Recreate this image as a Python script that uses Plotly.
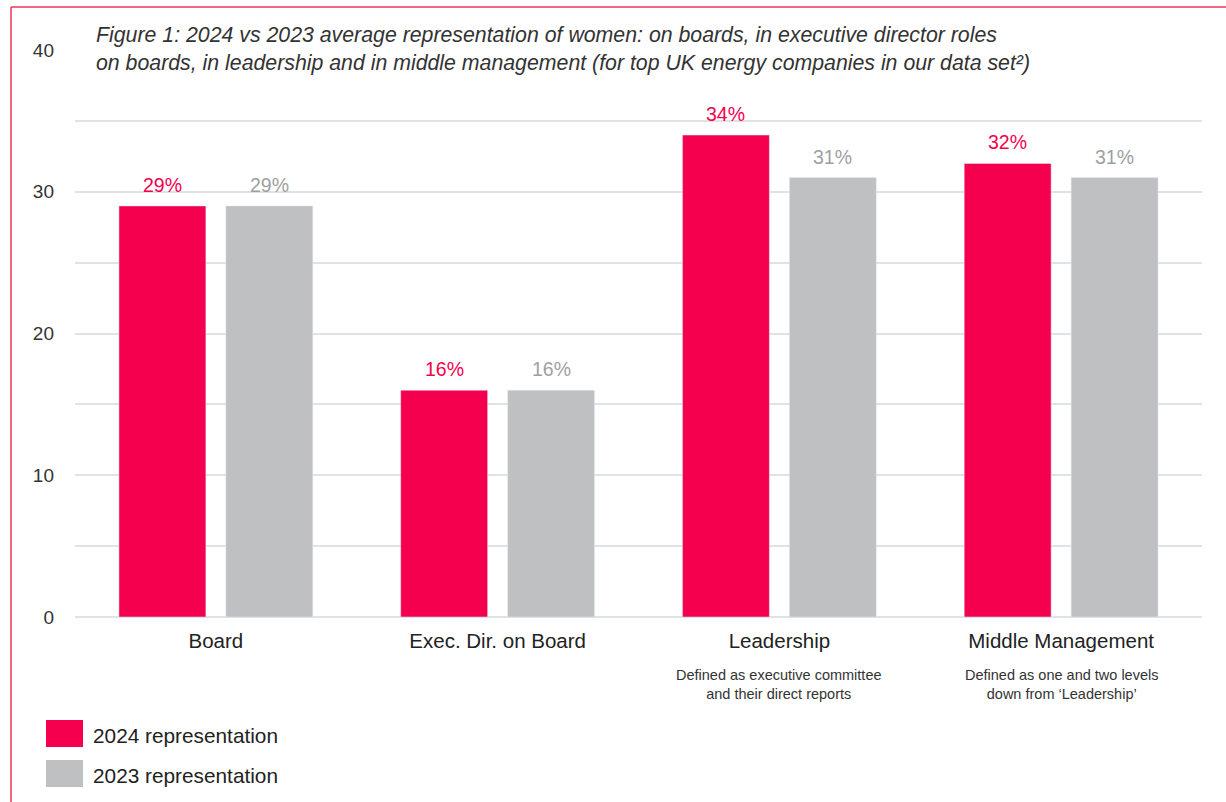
import plotly.graph_objects as go

# Data
categories = ["Board", "Exec. Dir. on Board", "Leadership", "Middle Management"]
notes = ["", "", "Defined as executive committee<br>and their direct reports",
         "Defined as one and two levels<br>down from \u2018Leadership\u2019"]
rep_2024 = [29, 16, 34, 32]
rep_2023 = [29, 16, 31, 31]
series_names = ["2024 representation", "2023 representation"]
y_ticks = [0, 5, 10, 15, 20, 25, 30, 35, 40]
y_tick_text = ["0", "", "10", "", "20", "", "30", "", "40"]
title_text = ("<i>Figure 1: 2024 vs 2023 average representation of women: on boards, in executive director roles<br>"
              "on boards, in leadership and in middle management (for top UK energy companies in our data set\u00b2)</i>")

PINK = "#F5004F"
GREY = "#BFC0C2"
GREY_TEXT = "#9E9FA1"
GRID = "#DFE3E8"
FONT = "Liberation Sans, Arial, sans-serif"

W, H = 1226, 802
L, R, T, B = 75, 24, 50, 185
pw, ph = W - L - R, H - T - B


def px_x(px):
    return (px - L) / pw


def px_y(py):
    return (H - B - py) / ph


fig = go.Figure()
fig.add_trace(go.Bar(x=categories, y=rep_2024, name=series_names[0], marker_color=PINK))
fig.add_trace(go.Bar(x=categories, y=rep_2023, name=series_names[1], marker_color=GREY))

shapes = [
    # white band behind the title, hiding the top gridline
    dict(type="rect", xref="paper", yref="paper", x0=px_x(81), x1=px_x(1180),
         y0=px_y(80), y1=px_y(18), fillcolor="white", line_width=0, layer="above"),
    # frame lines
    dict(type="line", xref="paper", yref="paper", x0=px_x(11), x1=px_x(W + 5),
         y0=px_y(7), y1=px_y(7), line=dict(color="#E8345C", width=1.5)),
    dict(type="line", xref="paper", yref="paper", x0=px_x(11), x1=px_x(11),
         y0=px_y(7), y1=px_y(H + 5), line=dict(color="#E8345C", width=1.5)),
]

annotations = [
    dict(text=title_text, xref="paper", yref="paper", x=px_x(94), y=px_y(21),
         xanchor="left", yanchor="top", align="left", showarrow=False,
         font=dict(size=21.3, color="#333333", family=FONT)),
]

# value labels above each bar (group offset of half a slot in pixels)
half_slot = 53.5
for values, col, shift in [(rep_2024, PINK, -half_slot), (rep_2023, GREY_TEXT, half_slot)]:
    for cat, v in zip(categories, values):
        annotations.append(dict(text=f"{v}%", x=cat, y=v, xref="x", yref="y",
                                xshift=shift, yshift=8, yanchor="bottom", showarrow=False,
                                font=dict(size=19.5, color=col, family=FONT)))

for cat, note in zip(categories, notes):
    if note:
        annotations.append(dict(text=note, x=cat, xref="x", yref="paper", y=px_y(665),
                                yanchor="top", showarrow=False, align="center",
                                font=dict(size=14.5, color="#333333", family=FONT)))

# legend drawn as swatches + labels
for i, (name, col) in enumerate(zip(series_names, [PINK, GREY])):
    top = 720 + i * 40
    shapes.append(dict(type="rect", xref="paper", yref="paper", x0=px_x(46), x1=px_x(83),
                       y0=px_y(top + 27), y1=px_y(top), fillcolor=col, line_width=0))
    annotations.append(dict(text=name, xref="paper", yref="paper", x=px_x(91),
                            y=px_y(top + 15), xanchor="left", yanchor="middle",
                            showarrow=False, font=dict(size=20.8, color="#222222", family=FONT)))

fig.update_layout(
    width=W, height=H,
    margin=dict(l=L, r=R, t=T, b=B),
    paper_bgcolor="white", plot_bgcolor="white",
    barmode="group", bargap=0.241, bargroupgap=0.187,
    showlegend=False,
    font=dict(family=FONT),
    shapes=shapes, annotations=annotations,
    xaxis=dict(showgrid=False, showline=False, ticks="",
               tickfont=dict(size=20.5, color="#222222", family=FONT),
               ticklabelstandoff=9),
    yaxis=dict(range=[0, 40], tickvals=y_ticks, ticktext=y_tick_text,
               showgrid=True, gridcolor=GRID, gridwidth=1.5,
               zeroline=True, zerolinecolor=GRID, zerolinewidth=2,
               showline=False, ticks="",
               tickfont=dict(size=19, color="#333333", family=FONT),
               ticklabelstandoff=20),
)

fig.write_html("out.html")
